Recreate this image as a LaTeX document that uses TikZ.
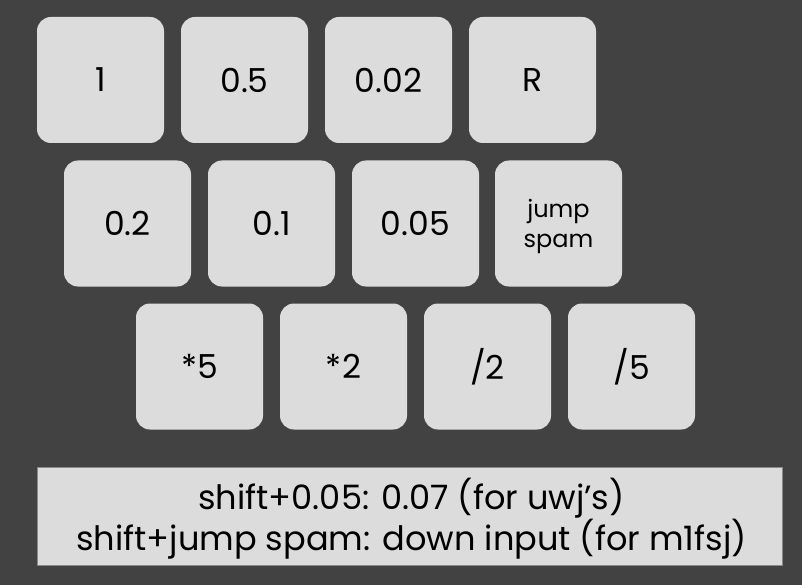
\documentclass[tikz,border=0pt]{standalone}
\usepackage{fontspec}
\setmainfont{Poppins}
\definecolor{bg}{HTML}{424242}
\definecolor{key}{HTML}{DCDCDC}
\definecolor{keyedge}{HTML}{8A8A8A}
\begin{document}
\begin{tikzpicture}[x=1pt,y=-1pt,
  keybox/.style={fill=key, draw=none, rounded corners=14pt, minimum width=127pt, minimum height=126pt, inner sep=0pt, font=\fontsize{33}{38}\selectfont, text=black, align=center},
  smalltext/.style={font=\fontsize{24}{30}\selectfont, align=center, inner sep=0pt, text=black},
  notebox/.style={fill=key, draw=keyedge, line width=1pt, minimum width=745pt, minimum height=98pt, inner sep=0pt},
  notetext/.style={font=\fontsize{33.6}{41}\selectfont, align=center, inner sep=0pt, text=black}]
\fill[bg] (0,0) rectangle (802,585);
\useasboundingbox (0,0) rectangle (802,585);
\node[keybox] (k1) at (100.5,80) {1};
\node[keybox] (k2) at (244.5,80) {0.5};
\node[keybox] (k3) at (388.5,80) {0.02};
\node[keybox] (k4) at (532.5,80) {R};
\node[keybox] (k5) at (127.5,223.5) {0.2};
\node[keybox] (k6) at (271.5,223.5) {0.1};
\node[keybox] (k7) at (415.5,223.5) {0.05};
\node[keybox] (k8) at (558.5,223.5) {};
\node[smalltext] (k8t) at (558.5,226) {jump\\spam};
\node[keybox] (k9) at (199.5,366.5) {*5};
\node[keybox] (k10) at (343.5,366.5) {*2};
\node[keybox] (k11) at (487.5,366.5) {/2};
\node[keybox] (k12) at (631.5,366.5) {/5};
\node[notebox] (note) at (409.5,516) {};
\node[notetext] (notet) at (411.5,518.5) {shift+0.05: 0.07 (for uwj’s)\\shift+jump spam: down input (for m1fsj)};
\end{tikzpicture}
\end{document}
